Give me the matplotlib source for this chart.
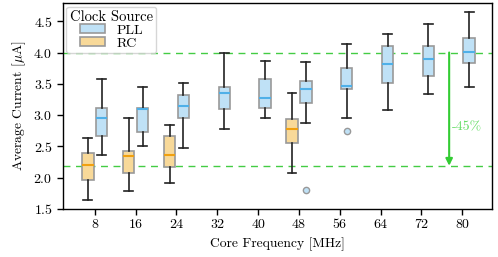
import matplotlib
matplotlib.use("Agg")
import matplotlib.pyplot as plt
from matplotlib.patches import Patch

plt.rcParams['font.family'] = 'serif'
plt.rcParams['font.serif'] = ['cmr10', 'DejaVu Serif']
plt.rcParams['mathtext.fontset'] = 'cm'
plt.rcParams['axes.formatter.use_mathtext'] = True
plt.rcParams['font.size'] = 10

freqs = [8, 16, 24, 32, 40, 48, 56, 64, 72, 80]

# PLL boxes: whisker low, q1, median, q3, whisker high
pll_lo  = [2.37, 2.50, 2.47, 2.77, 2.95, 2.87, 2.95, 3.08, 3.33, 3.45]
pll_q1  = [2.67, 2.73, 2.95, 3.09, 3.11, 3.20, 3.41, 3.51, 3.62, 3.84]
pll_med = [2.95, 3.10, 3.15, 3.35, 3.28, 3.41, 3.46, 3.82, 3.90, 4.01]
pll_q3  = [3.12, 3.12, 3.32, 3.45, 3.57, 3.55, 3.76, 4.11, 4.11, 4.23]
pll_hi  = [3.57, 3.45, 3.52, 4.00, 3.86, 3.85, 4.14, 4.30, 4.46, 4.64]
pll_out = [[], [], [], [], [], [1.80], [2.75], [], [], []]

# RC only at some frequencies
rc_freqs = [8, 16, 24, 48]
rc_lo  = [1.65, 1.78, 1.91, 2.08]
rc_q1  = [1.97, 2.08, 2.17, 2.55]
rc_med = [2.20, 2.35, 2.36, 2.78]
rc_q3  = [2.39, 2.43, 2.66, 2.94]
rc_hi  = [2.63, 2.95, 2.84, 3.36]

ref_hi = 4.0
ref_lo = 2.19

pll_fill, pll_med_c = '#bfe1f6', '#4fb0e8'
rc_fill, rc_med_c = '#f8d999', '#f0a010'
edge = '#999999'
green = '#33cc33'

fig = plt.figure(figsize=(4.98, 2.57), dpi=100)
ax = fig.add_axes([0.1265, 0.187, 0.8615, 0.801])

def make_stats(lo, q1, med, q3, hi, out=None):
    stats = []
    for i in range(len(lo)):
        stats.append({'whislo': lo[i], 'q1': q1[i], 'med': med[i], 'q3': q3[i],
                      'whishi': hi[i], 'fliers': out[i] if out else []})
    return stats

off = 0.17
w = 0.28
common = dict(widths=w, capwidths=0.22, patch_artist=True, manage_ticks=False,
              whiskerprops=dict(color='#222222', lw=1.2),
              capprops=dict(color='#222222', lw=1.2))

pos_pll = [freqs.index(f) + off for f in freqs]
ax.bxp(make_stats(pll_lo, pll_q1, pll_med, pll_q3, pll_hi, pll_out), positions=pos_pll,
       boxprops=dict(facecolor=pll_fill, edgecolor=edge, lw=1.2),
       medianprops=dict(color=pll_med_c, lw=1.5),
       flierprops=dict(marker='o', markersize=4.5, markerfacecolor=pll_fill,
                       markeredgecolor=edge, markeredgewidth=1.0),
       **common)

pos_rc = [freqs.index(f) - off for f in rc_freqs]
ax.bxp(make_stats(rc_lo, rc_q1, rc_med, rc_q3, rc_hi), positions=pos_rc,
       boxprops=dict(facecolor=rc_fill, edgecolor=edge, lw=1.2),
       medianprops=dict(color=rc_med_c, lw=1.5),
       **common)

ax.axhline(ref_hi, color='#44cc44', lw=1.0, ls=(0, (5, 4)), zorder=0)
ax.axhline(ref_lo, color='#44cc44', lw=1.0, ls=(0, (5, 4)), zorder=0)

ax.annotate('', xy=(8.68, ref_lo), xytext=(8.68, ref_hi),
            arrowprops=dict(arrowstyle='-|>', color=green, lw=1.5,
                            shrinkA=0, shrinkB=0, mutation_scale=10))
ax.text(8.74, 2.8, '-45%', color='#66dd66', fontsize=10, va='center', ha='left')

ax.set_xlim(-0.78, 9.73)
ax.set_ylim(1.5, 4.79)
ax.set_xticks(range(len(freqs)))
ax.set_xticklabels([str(f) for f in freqs])
ax.set_yticks([1.5, 2.0, 2.5, 3.0, 3.5, 4.0, 4.5])
ax.set_xlabel('Core Frequency [MHz]', fontsize=9.8)
ax.set_ylabel(r'Average Current [$\mu$A]', fontsize=9.8)
for s in ax.spines.values():
    s.set_linewidth(1.0)
ax.tick_params(direction='out', length=4, width=1.0, labelsize=10)

handles = [Patch(facecolor=pll_fill, edgecolor=edge, lw=1.2, label='PLL'),
           Patch(facecolor=rc_fill, edgecolor=edge, lw=1.2, label='RC')]
ax.legend(handles=handles, title='Clock Source', loc='upper left', fontsize=10,
          title_fontsize=10.5, borderpad=0.25, labelspacing=0.05, handlelength=1.8,
          handleheight=0.6, borderaxespad=0.25, framealpha=0.8)

fig.savefig('out.png', dpi=100)
